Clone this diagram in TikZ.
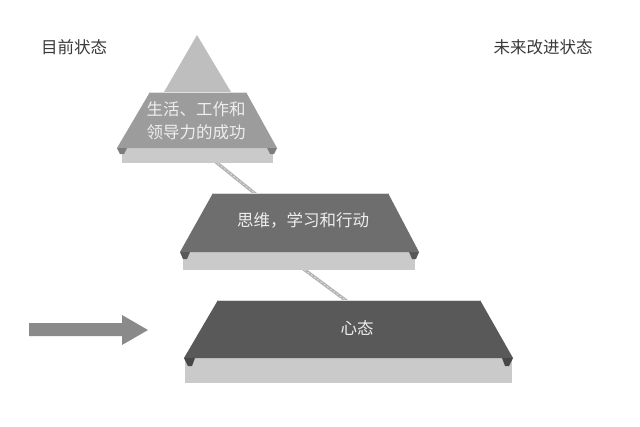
\documentclass[tikz,border=0pt]{standalone}
\usepackage{fontspec}
\setmainfont{Noto Sans CJK SC}
\usetikzlibrary{positioning}
\definecolor{ink}{HTML}{3A3A3A}
\definecolor{capgray}{HTML}{BEBEBE}
\definecolor{topband}{HTML}{9C9C9C}
\definecolor{midband}{HTML}{6E6E6E}
\definecolor{lowband}{HTML}{595959}
\definecolor{slab}{HTML}{CACACA}
\definecolor{rope}{HTML}{B4B4B4}
\definecolor{arrowgray}{HTML}{8A8A8A}
\definecolor{labeltxt}{HTML}{EEEEEE}
\tikzset{
  state/.style={font=\fontsize{16.5}{18}\selectfont, text=ink, inner sep=0pt},
  tierlabel/.style={
    font=\fontsize{16.5}{23}\selectfont, text=labeltxt,
    align=center, inner sep=0pt
  },
  slabstyle/.style={fill=slab, draw=none},
  ropeline/.style={line width=3.2pt, draw=rope, line join=round}
}

\begin{document}
\begin{tikzpicture}[x=1pt, y=-1pt]
  \useasboundingbox[fill=white] (0,0) rectangle (640,426);

  % rope behind the tiers
  \coordinate (r0) at (196,146);
  \coordinate (r1) at (258,196);
  \coordinate (r2) at (282,253);
  \coordinate (r3) at (348,302);
  \draw[ropeline] (r0) -- (r1) -- (r2) -- (r3);
  \draw[line width=0.8pt, white, dash pattern=on 2pt off 2pt, opacity=0.6] (r0) -- (r1);
  \draw[line width=0.8pt, white, dash pattern=on 2pt off 2pt, opacity=0.6] (r2) -- (r3);

  % top tier
  \fill[capgray] (197,35) -- (231,92) -- (164,92) -- cycle;
  \fill[slabstyle] (122,148) rectangle (273,163);
  \fill[topband] (150,92) -- (246,92) -- (277,148) -- (117,148) -- cycle;
  \fill[topband!80!black] (117,148) -- (127,148) -- (124,154) -- (120,154) -- cycle;
  \fill[topband!80!black] (277,148) -- (267,148) -- (270,154) -- (274,154) -- cycle;
  \draw[white!75!gray, line width=0.6pt] (150,92) -- (246,92);

  % middle tier
  \fill[slabstyle] (183,252) rectangle (415,270);
  \fill[midband] (213,193) -- (388,193) -- (419,252) -- (180,252) -- cycle;
  \fill[midband!80!black] (180,252) -- (190,252) -- (187,259) -- (183,259) -- cycle;
  \fill[midband!80!black] (419,252) -- (409,252) -- (412,259) -- (416,259) -- cycle;
  \draw[white!70!gray, line width=0.6pt] (213,193) -- (388,193);

  % bottom tier
  \fill[slabstyle] (185,358) rectangle (512,383);
  \fill[lowband] (218,300) -- (480,300) -- (513,358) -- (184,358) -- cycle;
  \fill[lowband!80!black] (184,358) -- (195,358) -- (192,366) -- (188,366) -- cycle;
  \fill[lowband!80!black] (513,358) -- (502,358) -- (505,366) -- (509,366) -- cycle;
  \draw[white!70!gray, line width=0.6pt] (218,300) -- (480,300);

  % arrow on the left
  \fill[arrowgray] (29,323) -- (122,323) -- (122,315) -- (148,330)
    -- (122,345) -- (122,336) -- (29,336) -- cycle;

  \node[state] (now) at (74,47) {目前状态};
  \node[state] (future) at (543,47) {未来改进状态};
  \node[tierlabel] (success) at (196,121) {生活、工作和\\领导力的成功};
  \node[tierlabel] (thinking) at (303,220) {思维，学习和行动};
  \node[tierlabel] (mindset) at (357,328) {心态};
\end{tikzpicture}
\end{document}
